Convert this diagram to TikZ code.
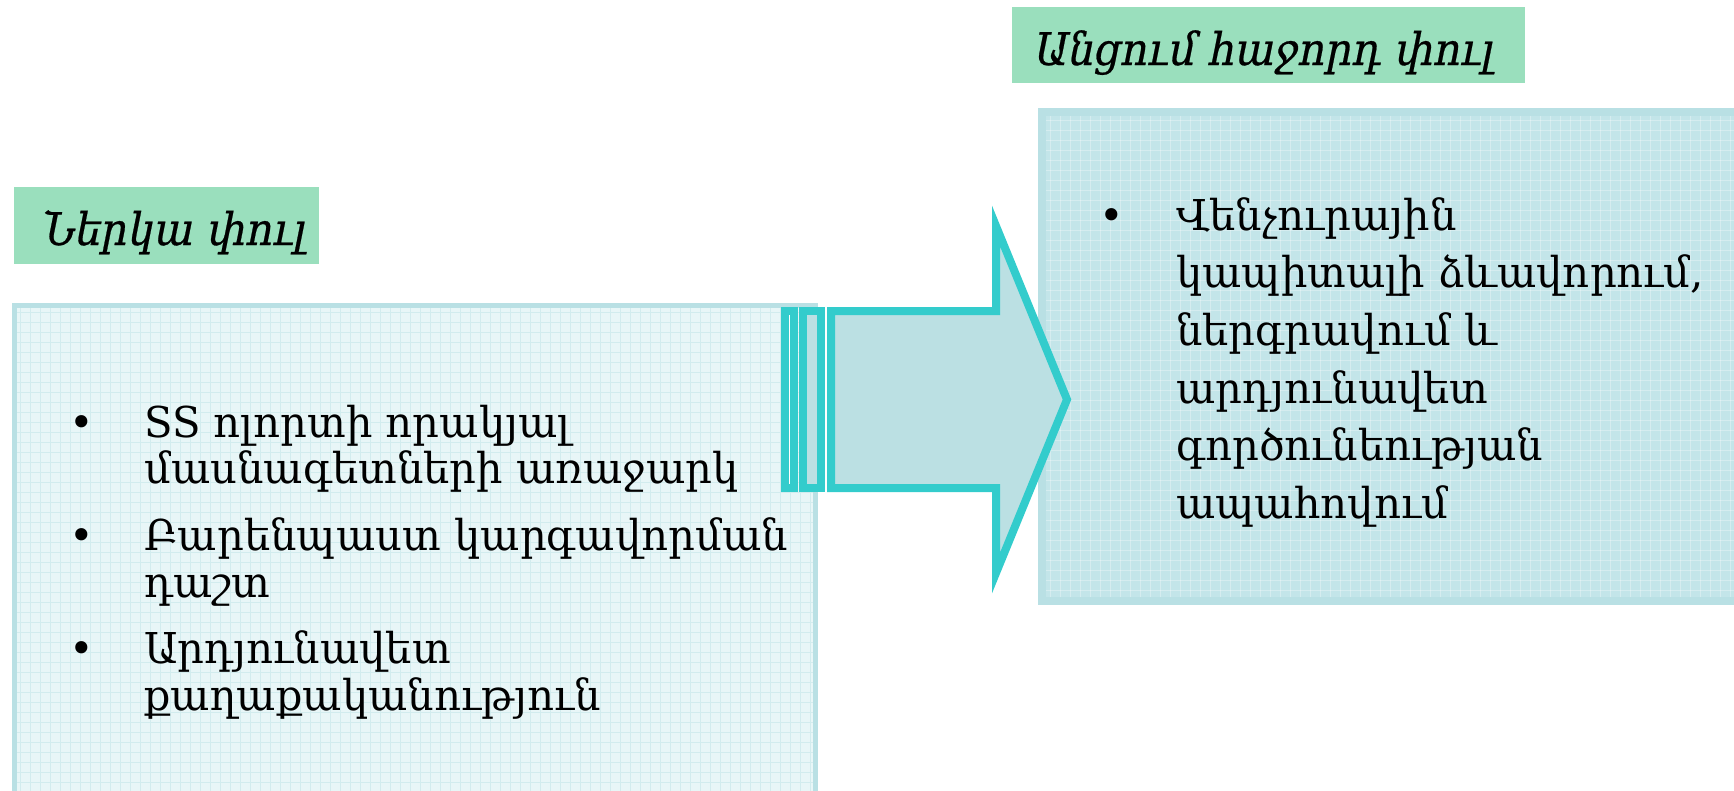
\documentclass[tikz,border=0pt]{standalone}
\usepackage{fontspec}
\newfontfamily\arm[FakeStretch=0.98]{DejaVu Serif}
\newfontfamily\armit[FakeStretch=0.93,FakeSlant=0.2,FakeBold=0.5]{DejaVu Serif}
\definecolor{headgreen}{HTML}{9ADFBD}
\definecolor{lbfill}{HTML}{E8F6F7}
\definecolor{lbgrid}{HTML}{D2ECEE}
\definecolor{boxborder}{HTML}{B9E0E4}
\definecolor{rbfill}{HTML}{C3E5E9}
\definecolor{arrowline}{HTML}{33CCCC}
\definecolor{arrowfill}{HTML}{BBE0E3}
\begin{document}
\begin{tikzpicture}[x=1pt,y=-1pt,
  bodytext/.style={anchor=base west,inner sep=0pt,font=\arm\fontsize{42.5}{50}\selectfont},
  headtext/.style={anchor=base,inner sep=0pt,font=\armit\fontsize{45}{52}\selectfont},
  arrowpart/.style={draw=arrowline,line width=8pt,fill=arrowfill,line join=miter}]
\useasboundingbox (0,0) rectangle (1734,790);
% left content box
\fill[lbfill] (12,303) rectangle (818,800);
\begin{scope}
  \clip (17,308) rectangle (813,800);
  \foreach \gx in {20,30,...,810} \draw[lbgrid,line width=1pt] (\gx,303) -- (\gx,800);
  \foreach \gy in {312,322,...,792} \draw[lbgrid,line width=1pt] (12,\gy) -- (818,\gy);
\end{scope}
\draw[boxborder,line width=5pt] (14.5,800) -- (14.5,305.5) -- (815.5,305.5) -- (815.5,800);
% right content box
\fill[rbfill] (1038,108) rectangle (1740,605);
\begin{scope}
  \clip (1046,116) rectangle (1740,597);
  \foreach \gx in {1050,1060,...,1734} \draw[white,opacity=0.3,line width=1pt] (\gx,108) -- (\gx,605);
  \foreach \gy in {120,130,...,600} \draw[white,opacity=0.3,line width=1pt] (1038,\gy) -- (1740,\gy);
\end{scope}
\draw[boxborder,line width=8pt] (1740,112) -- (1042,112) -- (1042,601) -- (1740,601);
% heading boxes
\fill[headgreen] (14,187) rectangle (319,264);
\fill[headgreen] (1012,7) rectangle (1525,83);
% striped arrow
\draw[arrowline,line width=8pt,fill=white] (785,311) rectangle (794,488);
\draw[arrowpart] (803,311) rectangle (821,488);
\draw[arrowpart] (831,311) -- (996,311) -- (996,226) -- (1067,399.5) -- (996,573) -- (996,488) -- (831,488) -- cycle;
% headings
\node[headtext] (h1) at (172,245) {Ներկա փուլ};
\node[headtext] (h2) at (1262,65) {Անցում հաջորդ փուլ};
% left bullets
\node[bodytext,anchor=base] (lb1) at (82,437) {•};
\node[bodytext,anchor=base] (lb2) at (82,550) {•};
\node[bodytext,anchor=base] (lb3) at (82,663) {•};
\node[bodytext] (l1) at (144,437) {SS ոլորտի որակյալ};
\node[bodytext] (l2) at (144,483) {մասնագետների առաջարկ};
\node[bodytext] (l3) at (144,550) {Բարենպաստ կարգավորման};
\node[bodytext] (l4) at (144,597) {դաշտ};
\node[bodytext] (l5) at (144,663) {Արդյունավետ};
\node[bodytext] (l6) at (144,710) {քաղաքականություն};
% right bullet
\node[bodytext,anchor=base] (rb1) at (1112,230) {•};
\node[bodytext] (r1) at (1176,230) {Վենչուրային};
\node[bodytext] (r2) at (1176,287.5) {կապիտալի ձևավորում,};
\node[bodytext] (r3) at (1176,345) {ներգրավում և};
\node[bodytext] (r4) at (1176,403) {արդյունավետ};
\node[bodytext] (r5) at (1176,460) {գործունեության};
\node[bodytext] (r6) at (1176,518) {ապահովում};
\end{tikzpicture}
\end{document}
